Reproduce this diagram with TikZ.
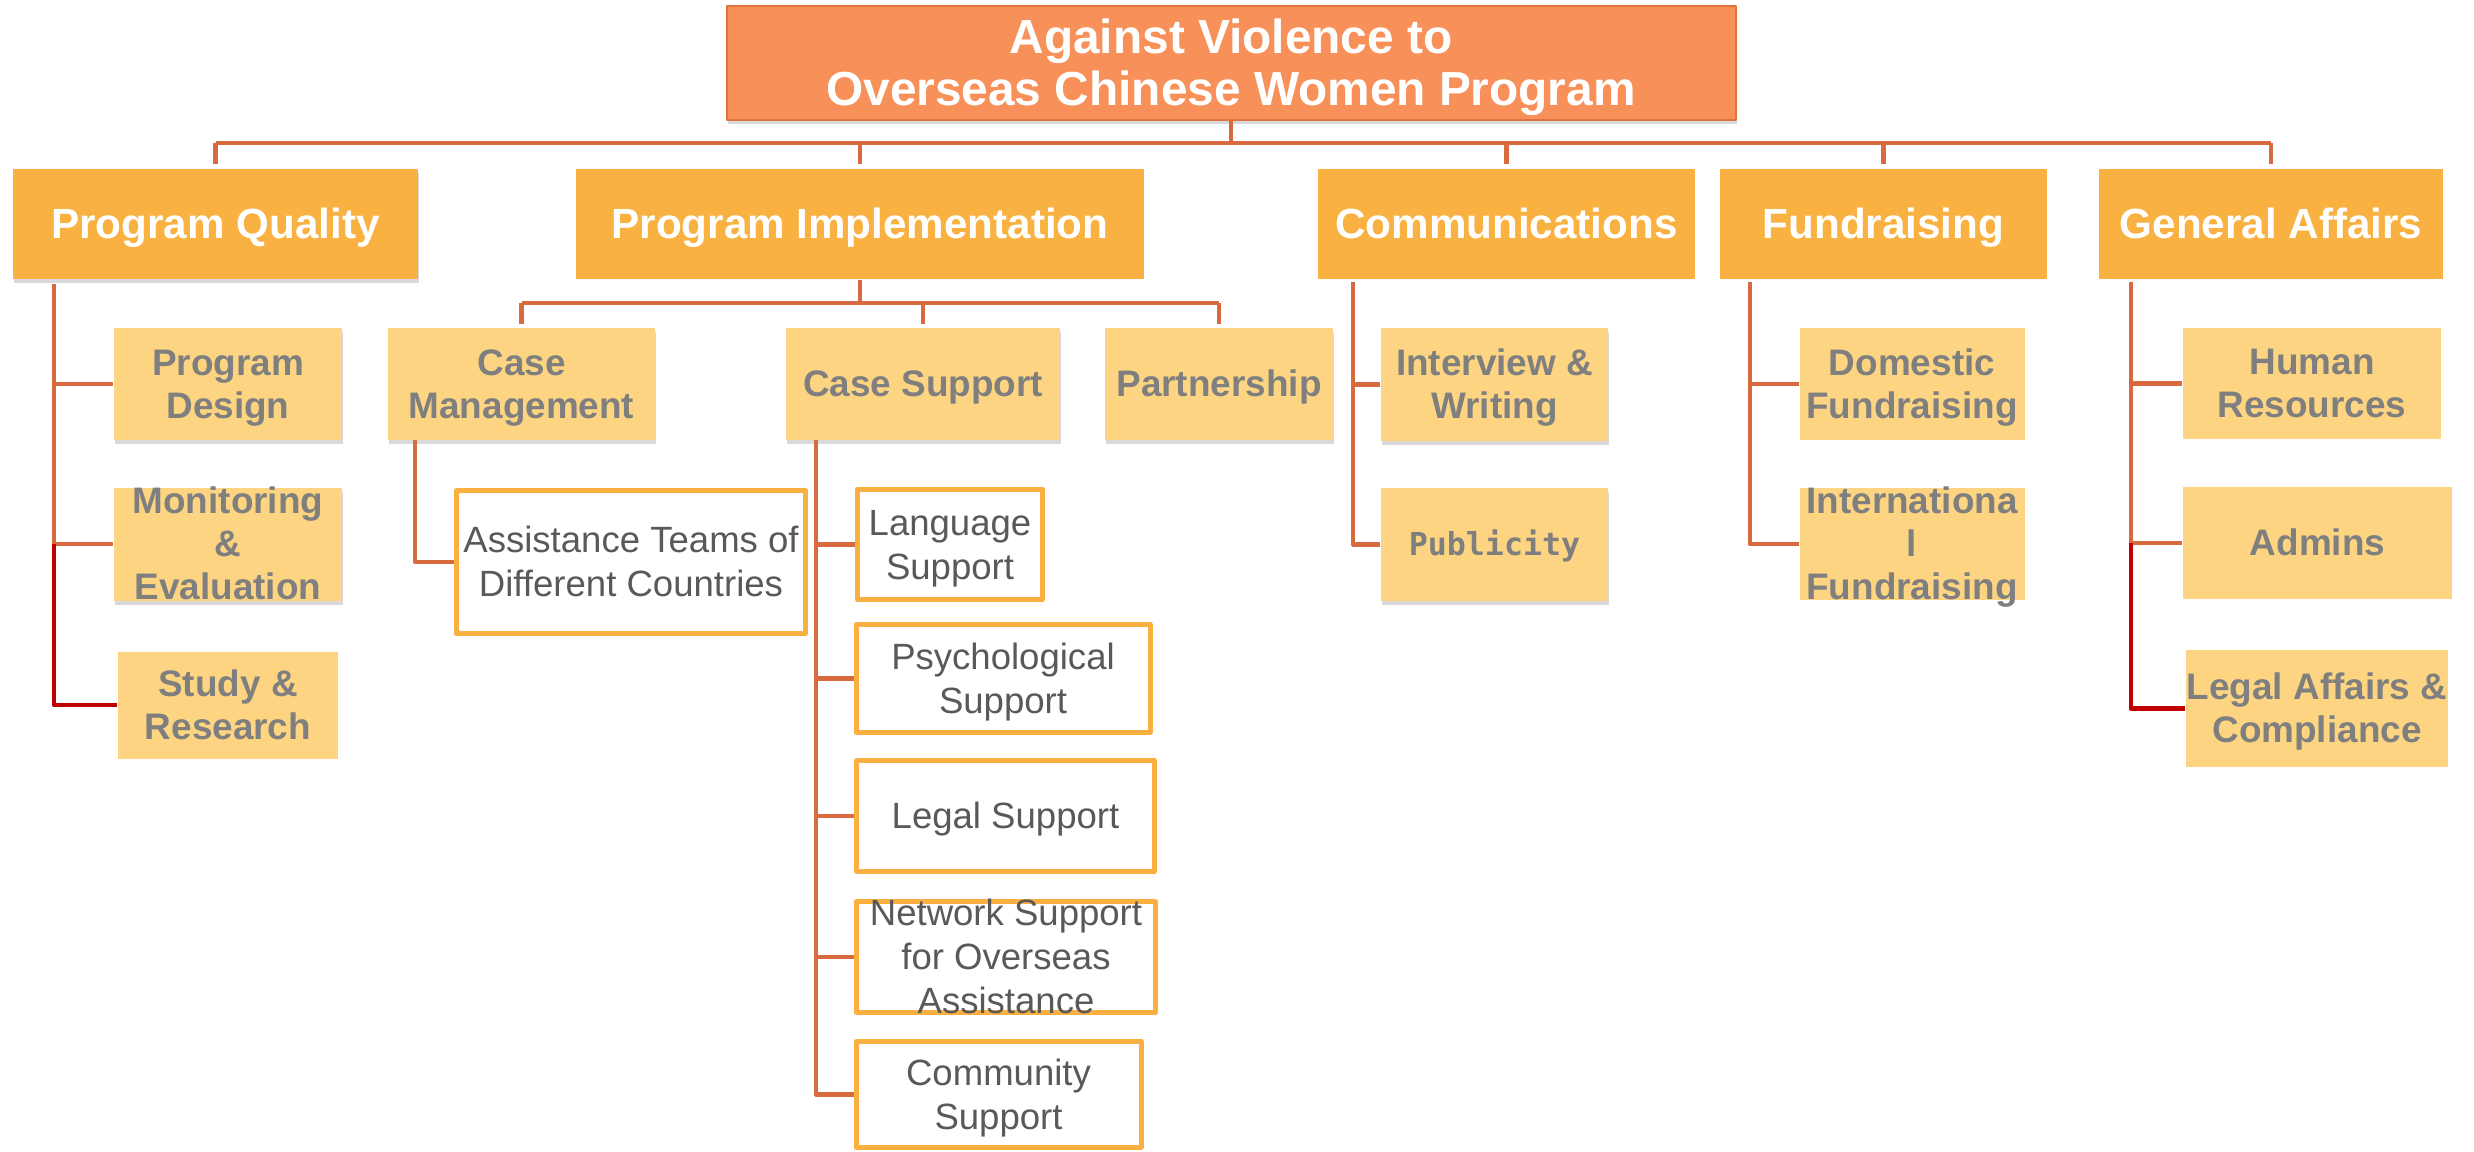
\documentclass[tikz,border=0pt]{standalone}
\usepackage{fontspec}
\setmainfont{Liberation Sans}
\newfontfamily\monofont{DejaVu Sans Mono}
\usetikzlibrary{shadows}
\definecolor{salmon}{HTML}{F79059}
\definecolor{salmonosc}{HTML}{E2733F}
\definecolor{naranja}{HTML}{F9B242}
\definecolor{amarillo}{HTML}{FDD582}
\definecolor{gris}{HTML}{7F7F7F}
\definecolor{grisosc}{HTML}{595959}
\definecolor{linea}{HTML}{D96A3F}
\definecolor{rojo}{HTML}{C00000}
\definecolor{marco}{HTML}{F9B040}
% puntales con la altura de linea de la fuente
\newcommand\arriba{\rule{0pt}{0.905em}}
\newcommand\abajo{\rule[-0.212em]{0pt}{0.212em}}

\begin{document}
\begin{tikzpicture}[line join=round,
  lnk/.style={draw=linea, line width=0.045cm},
  lnkrojo/.style={draw=rojo, line width=0.045cm},
  sombra/.style={drop shadow={shadow xshift=0.01cm, shadow yshift=-0.04cm, opacity=0.3}},
  plano/.style={},
  caja/.style={inner sep=0pt, execute at begin node=\arriba, execute at end node=\abajo},
  jefe/.style={caja, fill=salmon, draw=salmonosc, line width=0.02cm, text=white, align=center,
    font=\fontsize{13.6}{14.8}\selectfont\bfseries},
  depto/.style={caja, fill=naranja, text=white, font=\fontsize{12}{14}\selectfont\bfseries},
  tarea/.style={caja, fill=amarillo, text=gris, align=center, font=\fontsize{10.5}{12.2}\selectfont\bfseries},
  apoyo/.style={caja, fill=white, draw=marco, line width=0.05cm, text=grisosc, align=center,
    font=\fontsize{10.4}{12.5}\selectfont}]
  \useasboundingbox (0,0) rectangle (24.74,-11.52);
  % el programa arriba
  \node[jefe, sombra, minimum width=10.09cm, minimum height=1.14cm] (prog) at (12.31,-0.63)
    {\arriba Against Violence to\\Overseas Chinese Women Program\abajo};
  % las cinco areas
  \foreach \n/\x/\w/\s/\t in {pq/2.155/4.05/sombra/Program Quality, pi/8.60/5.68/plano/Program Implementation,
      com/15.065/3.77/plano/Communications, fr/18.835/3.27/plano/Fundraising, ga/22.71/3.44/plano/General Affairs} {
    \node[depto, \s, minimum width=\w cm, minimum height=1.1cm] (\n) at (\x,-2.24) {\t};
  }
  % program quality
  \node[tarea, sombra, minimum width=2.28cm, minimum height=1.12cm] (pd) at (2.28,-3.84) {\arriba Program\\Design\abajo};
  \node[tarea, sombra, minimum width=2.28cm, minimum height=1.13cm,
    label={[tarea, fill=none]center:\arriba Monitoring\\\&\\Evaluation\abajo}] (me) at (2.28,-5.44) {};
  \node[tarea, minimum width=2.20cm, minimum height=1.07cm] (sr) at (2.28,-7.05) {\arriba Study \&\\Research\abajo};
  % program implementation
  \node[tarea, sombra, minimum width=2.67cm, minimum height=1.12cm] (cm) at (5.215,-3.84) {\arriba Case\\Management\abajo};
  \node[tarea, sombra, minimum width=2.74cm, minimum height=1.12cm] (cs) at (9.23,-3.84) {Case Support};
  \node[tarea, sombra, minimum width=2.28cm, minimum height=1.12cm] (pa) at (12.19,-3.84) {Partnership};
  \node[apoyo, minimum width=3.49cm, minimum height=1.43cm] (at) at (6.31,-5.62) {\arriba Assistance Teams of\\Different Countries\abajo};
  \node[apoyo, minimum width=1.85cm, minimum height=1.10cm] (ls) at (9.50,-5.445) {\arriba Language\\Support\abajo};
  \node[apoyo, minimum width=2.94cm, minimum height=1.08cm] (ps) at (10.03,-6.785) {\arriba Psychological\\Support\abajo};
  \node[apoyo, minimum width=2.98cm, minimum height=1.11cm] (lg) at (10.055,-8.16) {Legal Support};
  \node[apoyo, minimum width=2.99cm, minimum height=1.11cm,
    label={[apoyo, draw=none, fill=none]center:\arriba Network Support\\for Overseas\\Assistance\abajo}] (ns) at (10.06,-9.57) {};
  \node[apoyo, minimum width=2.85cm, minimum height=1.06cm] (co) at (9.985,-10.945) {\arriba Community\\Support\abajo};
  % communications y fundraising
  \node[tarea, sombra, minimum width=2.27cm, minimum height=1.13cm] (iw) at (14.945,-3.845) {\arriba Interview \&\\Writing\abajo};
  \node[tarea, sombra, minimum width=2.27cm, minimum height=1.13cm,
    font=\fontsize{9}{11}\selectfont\monofont\bfseries] (pu) at (14.945,-5.445) {Publicity};
  \node[tarea, minimum width=2.25cm, minimum height=1.12cm] (dfr) at (19.12,-3.84) {\arriba Domestic\\Fundraising\abajo};
  \node[tarea, minimum width=2.25cm, minimum height=1.12cm,
    label={[tarea, fill=none]center:\arriba Internationa\\l\\Fundraising\abajo}] (ifr) at (19.12,-5.44) {};
  % general affairs
  \node[tarea, minimum width=2.58cm, minimum height=1.11cm] (hr) at (23.12,-3.835) {\arriba Human\\Resources\abajo};
  \node[tarea, minimum width=2.69cm, minimum height=1.12cm] (ad) at (23.175,-5.43) {Admins};
  \node[tarea, minimum width=2.62cm, minimum height=1.17cm] (la) at (23.17,-7.085) {\arriba Legal Affairs \&\\Compliance\abajo};

  % barra bajo el titulo
  \coordinate (barra) at (12.31,-1.43);
  \draw[lnk] (prog) -- (barra);
  \draw[lnk] (barra -| pq) -- (barra -| ga);
  \foreach \n in {pq,pi,com,fr,ga} { \draw[lnk, shorten >=0.04cm] (barra -| \n.north) -- (\n.north); }
  % barra de program implementation
  \coordinate (barrapi) at (8.60,-3.03);
  \draw[lnk] (pi) -- (barrapi);
  \draw[lnk] (barrapi -| cm) -- (barrapi -| pa);
  \foreach \n in {cm,cs,pa} { \draw[lnk, shorten >=0.03cm] (barrapi -| \n.north) -- (\n.north); }
  % troncos verticales
  \coordinate (tpq) at (0.54,-2.84);
  \coordinate (tcm) at (4.15,-4.40);
  \coordinate (tcs) at (8.16,-4.40);
  \coordinate (tcom) at (13.53,-2.82);
  \coordinate (tfr) at (17.50,-2.82);
  \coordinate (tga) at (21.31,-2.82);
  \foreach \n in {pd,me} { \draw[lnk] (tpq) |- (\n.west); }
  \draw[lnkrojo] (tpq |- me.west) |- (sr.west);
  \draw[lnk] (tcm) |- (at.west);
  \foreach \n in {ls,ps,lg,ns,co} { \draw[lnk] (tcs) |- (\n.west); }
  \foreach \n in {iw,pu} { \draw[lnk] (tcom) |- (\n.west); }
  \foreach \n in {dfr,ifr} { \draw[lnk] (tfr) |- (\n.west); }
  \foreach \n in {hr,ad} { \draw[lnk] (tga) |- (\n.west); }
  \draw[lnkrojo] (tga |- ad.west) |- (la.west);
\end{tikzpicture}
\end{document}
